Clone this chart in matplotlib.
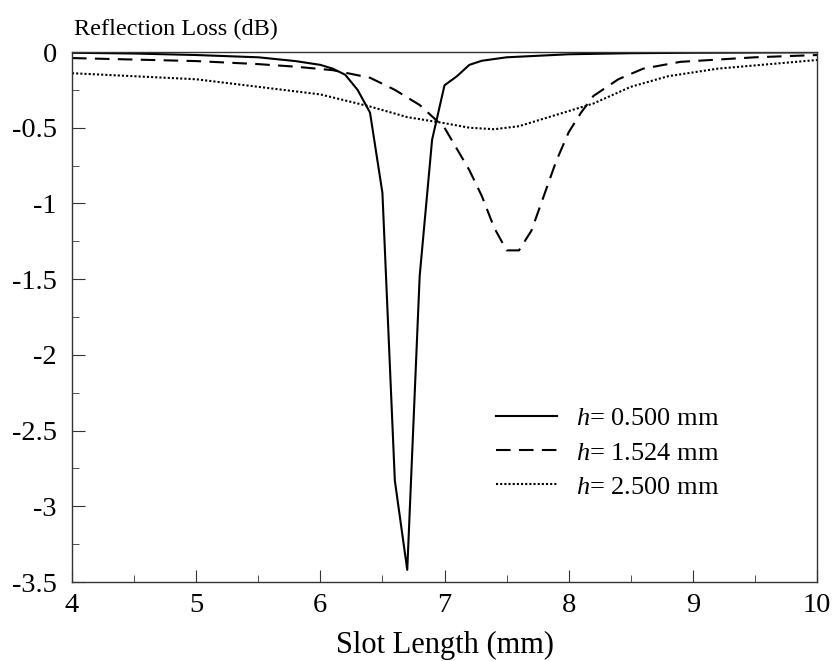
import numpy as np
import matplotlib
matplotlib.use("Agg")
import matplotlib.pyplot as plt
from matplotlib.ticker import MultipleLocator

plt.rcParams['font.family'] = ['Liberation Serif', 'DejaVu Serif']
plt.rcParams['mathtext.fontset'] = 'custom'
plt.rcParams['mathtext.it'] = 'Liberation Serif:italic'
plt.rcParams['mathtext.rm'] = 'Liberation Serif'
plt.rcParams['axes.unicode_minus'] = False

# h = 0.500 mm
x1 = [4.0, 4.5, 5.0, 5.5, 5.8, 6.0, 6.1, 6.2, 6.3, 6.4, 6.5, 6.6, 6.7, 6.8,
      6.9, 7.0, 7.1, 7.2, 7.3, 7.5, 8.0, 8.5, 9.0, 10.0]
y1 = [-0.005, -0.01, -0.02, -0.035, -0.06, -0.085, -0.11, -0.15, -0.25, -0.40,
      -0.93, -2.83, -3.42, -1.48, -0.58, -0.22, -0.16, -0.085, -0.058, -0.035,
      -0.015, -0.008, -0.005, -0.002]

# h = 1.524 mm
x2 = [4.0, 4.5, 5.0, 5.5, 5.8, 6.1, 6.4, 6.6, 6.8, 7.0, 7.1, 7.2, 7.3, 7.4,
      7.5, 7.6, 7.7, 7.8, 7.9, 8.0, 8.1, 8.2, 8.4, 8.6, 8.9, 9.5, 10.0]
y2 = [-0.04, -0.05, -0.06, -0.08, -0.097, -0.12, -0.17, -0.25, -0.35, -0.50,
      -0.64, -0.78, -0.95, -1.16, -1.31, -1.31, -1.18, -0.95, -0.72, -0.53,
      -0.40, -0.29, -0.18, -0.11, -0.065, -0.035, -0.02]

# h = 2.500 mm
x3 = [4.0, 4.5, 5.0, 5.4, 5.8, 6.0, 6.4, 6.7, 7.0, 7.2, 7.4, 7.6, 7.8, 8.2,
      8.5, 8.8, 9.2, 10.0]
y3 = [-0.14, -0.16, -0.18, -0.22, -0.26, -0.28, -0.36, -0.43, -0.47, -0.50,
      -0.51, -0.49, -0.44, -0.34, -0.23, -0.16, -0.11, -0.053]

labels = ["$h$= 0.500 mm", "$h$= 1.524 mm", "$h$= 2.500 mm"]
yticks = [-3.5, -3, -2.5, -2, -1.5, -1, -0.5, 0]
ytick_labels = ["-3.5", "-3", "-2.5", "-2", "-1.5", "-1", "-0.5", "0"]
xticks = [4, 5, 6, 7, 8, 9, 10]

fig = plt.figure(figsize=(8.35, 6.61), dpi=100)
ax = fig.add_axes([72/835, 79/661, 745/835, 530/661])

ax.plot(x1, y1, color='black', lw=1.5, label=labels[0])
ax.plot(x2, y2, color='black', lw=1.5, dashes=(7, 4), label=labels[1])
ax.plot(x3, y3, color='black', lw=1.5, linestyle=(0, (1, 1)), label=labels[2])

ax.set_xlim(4, 10)
ax.set_ylim(-3.5, 0)
ax.set_xticks(xticks)
ax.set_xticklabels([str(t) for t in xticks])
ax.set_yticks(yticks)
ax.set_yticklabels(ytick_labels)
ax.xaxis.set_minor_locator(MultipleLocator(0.5))
ax.yaxis.set_minor_locator(MultipleLocator(0.25))
ax.tick_params(which='both', direction='in', top=False, right=False,
               labelsize=20.5, color='#333333')
ax.tick_params(axis='x', which='major', length=9, pad=8)
ax.tick_params(axis='y', which='major', length=9, pad=11)
ax.tick_params(which='minor', length=5)
for s in ax.spines.values():
    s.set_linewidth(1.0)
    s.set_color('#333333')

ax.set_xlabel("Slot Length (mm)", fontsize=22, labelpad=9)
fig.text(74/835, 1 - 35/661, "Reflection Loss (dB)", fontsize=17.5,
         va='baseline', ha='left')

ax.legend(loc='upper left', bbox_to_anchor=((496-72)/745, (582-407)/530),
          frameon=False, fontsize=19, handlelength=2.3, handletextpad=0.75,
          labelspacing=0.4, borderpad=0, borderaxespad=0)

fig.savefig("out.png", dpi=100)
